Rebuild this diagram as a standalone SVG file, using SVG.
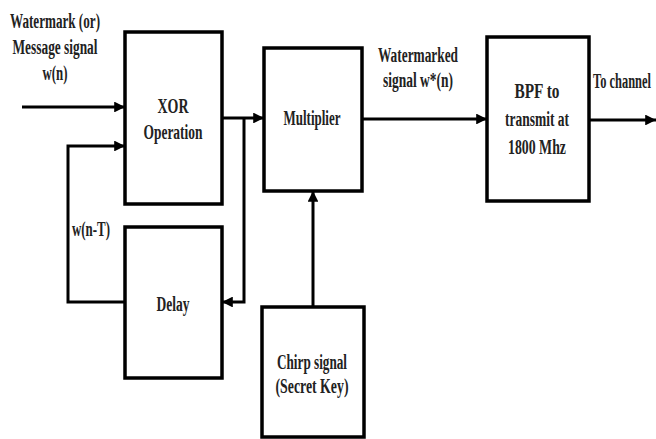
<svg xmlns="http://www.w3.org/2000/svg" width="656" height="439" viewBox="0 0 656 439">
<style>
.box{fill:#fff;stroke:#000;stroke-width:3.5}
.ln{fill:none;stroke:#000;stroke-width:3}
text{font-family:"Liberation Serif","Times New Roman",serif;font-weight:bold;font-size:20px;fill:#222;text-anchor:middle}
</style>
<defs>
<marker id="ah" viewBox="0 0 10 10" refX="10" refY="5" markerWidth="3.6" markerHeight="3.6" orient="auto" markerUnits="strokeWidth">
<path d="M0,0 L10,5 L0,10 z" fill="#000"/>
</marker>
</defs>
<rect width="656" height="439" fill="#fff"/>
<g id="input-label">
<text x="55" y="28" textLength="90" lengthAdjust="spacingAndGlyphs">Watermark (or)</text>
<text x="55" y="54" textLength="85" lengthAdjust="spacingAndGlyphs">Message signal</text>
<text x="55" y="80" textLength="25" lengthAdjust="spacingAndGlyphs">w(n)</text>
</g>
<g id="xor">
<rect class="box" x="125" y="32" width="97" height="172"/>
<text x="173" y="113" textLength="31" lengthAdjust="spacingAndGlyphs">XOR</text>
<text x="173" y="139" textLength="59" lengthAdjust="spacingAndGlyphs">Operation</text>
</g>
<g id="multiplier">
<rect class="box" x="264" y="48" width="98" height="143"/>
<text x="312" y="125" textLength="57" lengthAdjust="spacingAndGlyphs">Multiplier</text>
</g>
<g id="bpf">
<rect class="box" x="487" y="37" width="102" height="164"/>
<text x="537" y="98" textLength="45" lengthAdjust="spacingAndGlyphs">BPF to</text>
<text x="537" y="126" textLength="64" lengthAdjust="spacingAndGlyphs">transmit at</text>
<text x="537" y="154" textLength="58" lengthAdjust="spacingAndGlyphs">1800 Mhz</text>
</g>
<g id="delay">
<rect class="box" x="125" y="227" width="97" height="151"/>
<text x="173" y="311" textLength="33" lengthAdjust="spacingAndGlyphs">Delay</text>
</g>
<g id="chirp">
<rect class="box" x="262" y="307" width="102" height="130"/>
<text x="312" y="369" textLength="70" lengthAdjust="spacingAndGlyphs">Chirp signal</text>
<text x="312" y="393" textLength="73" lengthAdjust="spacingAndGlyphs">(Secret Key)</text>
</g>
<g id="connectors">
<line class="ln" x1="22" y1="107" x2="125" y2="107" marker-end="url(#ah)"/>
<polyline class="ln" points="125,302 68,302 68,146 125,146" marker-end="url(#ah)"/>
<line class="ln" x1="222" y1="118" x2="264" y2="118" marker-end="url(#ah)"/>
<polyline class="ln" points="244,118 244,302 222,302" marker-end="url(#ah)"/>
<line class="ln" x1="362" y1="119" x2="487" y2="119" marker-end="url(#ah)"/>
<line class="ln" x1="589" y1="120" x2="656" y2="120" marker-end="url(#ah)"/>
<line class="ln" x1="313" y1="307" x2="313" y2="191" marker-end="url(#ah)"/>
</g>
<g id="labels">
<text x="418" y="62" textLength="80" lengthAdjust="spacingAndGlyphs">Watermarked</text>
<text x="418" y="87" textLength="70" lengthAdjust="spacingAndGlyphs">signal w*(n)</text>
<text x="651" y="88" style="text-anchor:end" textLength="58" lengthAdjust="spacingAndGlyphs">To channel</text>
<text x="91" y="236" textLength="38" lengthAdjust="spacingAndGlyphs">w(n-T)</text>
</g>
</svg>
